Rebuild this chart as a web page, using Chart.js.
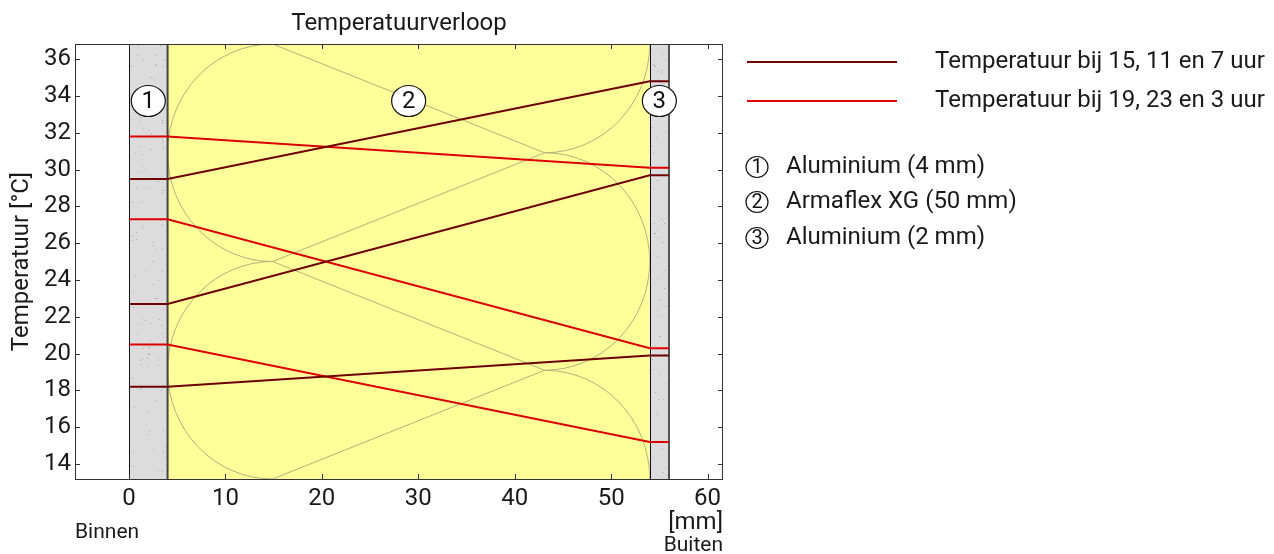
<!DOCTYPE html>
<html>
<head>
<meta charset="utf-8">
<script src="https://cdn.jsdelivr.net/npm/chart.js@4.4.1/dist/chart.umd.min.js"></script>
<style>
  html, body { margin: 0; padding: 0; background: #fff; }
  #wrap { width: 1274px; height: 554px; }
</style>
</head>
<body>
<div id="wrap"><canvas id="chart" width="1274" height="554"></canvas></div>
<script>
// layer boundaries in mm (binnen -> buiten)
const layerBounds = [0, 4, 54, 56];
const layerNames = ['Aluminium (4 mm)', 'Armaflex XG (50 mm)', 'Aluminium (2 mm)'];
const layerFill = ['#dcdcdc', '#ffff99', '#dcdcdc'];

const xTicks = [0, 10, 20, 30, 40, 50, 60];
const yTicks = [14, 16, 18, 20, 22, 24, 26, 28, 30, 32, 34, 36];

// temperatures at each layer boundary (°C)
const darkLabel = 'Temperatuur bij 15, 11 en 7 uur';
const darkLines = [
    [29.5, 29.5, 34.8, 34.8],
    [22.7, 22.7, 29.7, 29.7],
    [18.2, 18.2, 19.9, 19.9]
];
const redLabel = 'Temperatuur bij 19, 23 en 3 uur';
const redLines = [
    [31.8, 31.8, 30.1, 30.1],
    [27.3, 27.3, 20.3, 20.3],
    [20.5, 20.5, 15.2, 15.2]
];

const darkColor = '#6e0000';
const redColor = '#dd0000';
const textColor = '#1a1a1a';
const FONT = 'Roboto, "Noto Sans", sans-serif';

function toPoints(temps) {
    return temps.map((t, i) => ({ x: layerBounds[i], y: t }));
}

const datasets = [];
darkLines.forEach(l => datasets.push({ label: darkLabel, data: toPoints(l), borderColor: darkColor, borderWidth: 2 }));
redLines.forEach(l => datasets.push({ label: redLabel, data: toPoints(l), borderColor: redColor, borderWidth: 2 }));

// simple seeded generator for the aluminium speckle texture
let seed = 12345;
function rnd() {
    seed = (seed * 16807) % 2147483647;
    return seed / 2147483647;
}

function circledNumber(ctx, cx, cy, rx, ry, n, size) {
    ctx.beginPath();
    ctx.ellipse(cx, cy, rx, ry, 0, 0, Math.PI * 2);
    ctx.fillStyle = '#fff';
    ctx.fill();
    ctx.lineWidth = 1.2;
    ctx.strokeStyle = '#111';
    ctx.stroke();
    ctx.fillStyle = '#111';
    ctx.font = size + 'px ' + FONT;
    ctx.textAlign = 'center';
    ctx.textBaseline = 'middle';
    ctx.fillText(String(n), cx, cy + 1);
}

const layerPlugin = {
    id: 'layers',
    beforeDatasetsDraw(chart) {
        const { ctx, chartArea: a, scales: { x } } = chart;
        const top = a.top, bottom = a.bottom;
        ctx.save();
        // layer fills
        for (let i = 0; i < layerBounds.length - 1; i++) {
            const x0 = x.getPixelForValue(layerBounds[i]);
            const x1 = x.getPixelForValue(layerBounds[i + 1]);
            ctx.fillStyle = layerFill[i];
            ctx.fillRect(x0, top, x1 - x0, bottom - top);
        }
        // speckles in aluminium
        seed = 12345;
        [0, 2].forEach(i => {
            const x0 = x.getPixelForValue(layerBounds[i]);
            const x1 = x.getPixelForValue(layerBounds[i + 1]);
            const n = Math.round((x1 - x0) * (bottom - top) / 140);
            ctx.fillStyle = '#ababab';
            for (let k = 0; k < n; k++) {
                const px = x0 + 2 + rnd() * (x1 - x0 - 4);
                const py = top + rnd() * (bottom - top);
                ctx.fillRect(Math.round(px), Math.round(py), 1, 1);
            }
        });
        // insulation pattern in Armaflex layer
        const ix0 = x.getPixelForValue(layerBounds[1]);
        const ix1 = x.getPixelForValue(layerBounds[2]);
        const ry = (bottom - top) / 4;
        const rx = (ix1 - ix0) * 0.218;
        const cxL = ix0 + rx, cxR = ix1 - rx;
        ctx.beginPath();
        ctx.rect(ix0, top, ix1 - ix0, bottom - top);
        ctx.clip();
        ctx.strokeStyle = '#b3b07c';
        ctx.lineWidth = 1;
        ctx.beginPath();
        ctx.ellipse(cxL, top + ry, rx, ry, 0, -Math.PI / 2, Math.PI / 2, true);
        ctx.moveTo(cxL, top + 2 * ry);
        ctx.ellipse(cxL, top + 3 * ry, rx, ry, 0, -Math.PI / 2, Math.PI / 2, true);
        ctx.moveTo(cxR + rx, top);
        ctx.ellipse(cxR, top, rx, ry, 0, 0, Math.PI / 2, false);
        ctx.moveTo(cxR, top + ry);
        ctx.ellipse(cxR, top + 2 * ry, rx, ry, 0, -Math.PI / 2, Math.PI / 2, false);
        ctx.moveTo(cxR, top + 3 * ry);
        ctx.ellipse(cxR, bottom, rx, ry, 0, -Math.PI / 2, 0, false);
        ctx.moveTo(cxL, top); ctx.lineTo(cxR, top + ry);
        ctx.moveTo(cxL, top + 2 * ry); ctx.lineTo(cxR, top + ry);
        ctx.moveTo(cxL, top + 2 * ry); ctx.lineTo(cxR, top + 3 * ry);
        ctx.moveTo(cxL, bottom); ctx.lineTo(cxR, top + 3 * ry);
        ctx.stroke();
        ctx.restore();

        // layer borders
        ctx.save();
        const borders = [[0, '#111', 1], [1, '#444', 2], [2, '#111', 1], [3, '#555', 2]];
        borders.forEach(([i, col, w]) => {
            let bx = x.getPixelForValue(layerBounds[i]);
            if (w === 1) bx = Math.round(bx) + 0.5;
            ctx.strokeStyle = col;
            ctx.lineWidth = w;
            ctx.beginPath();
            ctx.moveTo(bx, top);
            ctx.lineTo(bx, bottom);
            ctx.stroke();
        });
        ctx.restore();
    },
    afterDatasetsDraw(chart) {
        const { ctx, chartArea: a, scales: { x } } = chart;
        ctx.save();
        for (let i = 0; i < layerBounds.length - 1; i++) {
            const cx = x.getPixelForValue((layerBounds[i] + layerBounds[i + 1]) / 2);
            circledNumber(ctx, cx, a.top + 57, 17, 15.5, i + 1, 24);
        }
        ctx.restore();
    },
    afterDraw(chart) {
        const { ctx, chartArea: a, scales: { x, y } } = chart;
        ctx.save();
        // frame
        ctx.strokeStyle = '#333';
        ctx.lineWidth = 1;
        ctx.strokeRect(Math.round(a.left) + 0.5, Math.round(a.top) + 0.5,
            Math.round(a.right - a.left) - 1, Math.round(a.bottom - a.top));
        // inward ticks
        ctx.beginPath();
        xTicks.forEach(v => {
            const px = Math.round(x.getPixelForValue(v)) + 0.5;
            ctx.moveTo(px, a.bottom); ctx.lineTo(px, a.bottom - 5);
            ctx.moveTo(px, a.top); ctx.lineTo(px, a.top + 5);
        });
        yTicks.forEach(v => {
            const py = Math.round(y.getPixelForValue(v)) + 0.5;
            ctx.moveTo(a.left, py); ctx.lineTo(a.left + 5, py);
            ctx.moveTo(a.right, py); ctx.lineTo(a.right - 5, py);
        });
        ctx.stroke();

        ctx.fillStyle = textColor;
        // title
        ctx.font = '24px ' + FONT;
        ctx.textAlign = 'center';
        ctx.textBaseline = 'middle';
        ctx.fillText('Temperatuurverloop', (a.left + a.right) / 2, 24);
        // y axis title
        ctx.save();
        ctx.translate(22, (a.top + a.bottom) / 2);
        ctx.rotate(-Math.PI / 2);
        ctx.fillText('Temperatuur [°C]', 0, 0);
        ctx.restore();
        // unit and sides
        ctx.textAlign = 'right';
        ctx.fillText('[mm]', a.right, 523);
        ctx.font = '21px ' + FONT;
        ctx.fillText('Buiten', a.right, 546);
        ctx.textAlign = 'left';
        ctx.fillText('Binnen', a.left, 533);

        // legend
        const lx0 = a.right + 24, lx1 = a.right + 174, tx = a.right + 212;
        [[darkColor, darkLabel, 62], [redColor, redLabel, 101]].forEach(([c, t, ly]) => {
            ctx.strokeStyle = c;
            ctx.lineWidth = 2;
            ctx.beginPath();
            ctx.moveTo(lx0, ly); ctx.lineTo(lx1, ly);
            ctx.stroke();
            ctx.fillStyle = textColor;
            ctx.font = '24px ' + FONT;
            ctx.textAlign = 'left';
            ctx.textBaseline = 'middle';
            ctx.fillText(t, tx, ly);
        });
        const listY = [167, 202, 238];
        layerNames.forEach((name, i) => {
            circledNumber(ctx, lx0 + 10, listY[i], 11, 10.5, i + 1, 20);
            ctx.fillStyle = textColor;
            ctx.font = '24px ' + FONT;
            ctx.textAlign = 'left';
            ctx.fillText(name, a.right + 63, listY[i]);
        });
        ctx.restore();
    }
};

const ctx = document.getElementById('chart').getContext('2d');
new Chart(ctx, {
    type: 'line',
    data: { datasets: datasets },
    options: {
        responsive: false,
        animation: false,
        events: [],
        layout: { padding: { top: 44, right: 551, left: 0, bottom: 0 } },
        elements: { point: { radius: 0 }, line: { tension: 0 } },
        plugins: { legend: { display: false }, tooltip: { enabled: false } },
        scales: {
            x: {
                type: 'linear',
                min: -5.6,
                max: 61.6,
                afterBuildTicks: s => { s.ticks = xTicks.map(v => ({ value: v })); },
                afterFit: s => { s.height = 75; },
                grid: { display: false, drawTicks: false },
                border: { display: false },
                ticks: { color: textColor, font: { size: 24, family: FONT }, padding: 6, maxRotation: 0 }
            },
            y: {
                type: 'linear',
                min: 13.19,
                max: 36.83,
                afterBuildTicks: s => { s.ticks = yTicks.map(v => ({ value: v })); },
                afterFit: s => { s.width = 75; },
                grid: { display: false, drawTicks: false },
                border: { display: false },
                ticks: { color: textColor, font: { size: 24, family: FONT }, padding: 4 }
            }
        }
    },
    plugins: [layerPlugin]
});
</script>
</body>
</html>
